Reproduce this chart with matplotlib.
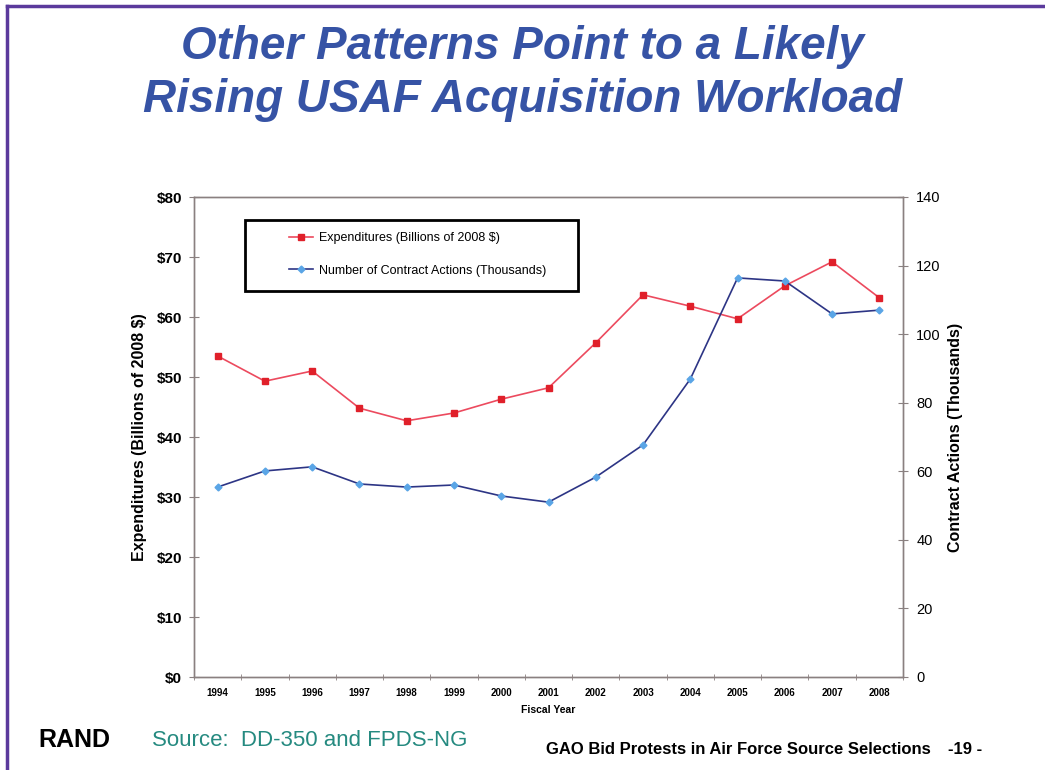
import matplotlib
matplotlib.use("Agg")
import matplotlib.pyplot as plt
from matplotlib.lines import Line2D
from matplotlib.patches import Rectangle
import numpy as np

years = ["1994", "1995", "1996", "1997", "1998", "1999", "2000", "2001",
         "2002", "2003", "2004", "2005", "2006", "2007", "2008"]
expenditures = [53.5, 49.3, 51.0, 44.8, 42.7, 44.0, 46.3, 48.2,
                55.7, 63.7, 61.8, 59.7, 65.2, 69.2, 63.2]
contract_actions = [55.4, 60.1, 61.3, 56.3, 55.4, 56.0, 52.8, 51.0,
                    58.3, 67.7, 86.9, 116.4, 115.5, 105.9, 107.0]
left_ticks = [0, 10, 20, 30, 40, 50, 60, 70, 80]
left_labels = ["$" + str(v) for v in left_ticks]
right_ticks = [0, 20, 40, 60, 80, 100, 120, 140]

plt.rcParams['font.family'] = ['Liberation Sans', 'DejaVu Sans']

fig = plt.figure(figsize=(10.45, 7.7), dpi=100)
fig.patch.set_facecolor("white")

# slide border (top and left)
purple = "#5b3a9c"
fig.add_artist(Line2D([7/1045, 1.0], [1 - 6/770, 1 - 6/770], color=purple, lw=2.5, transform=fig.transFigure))
fig.add_artist(Line2D([7/1045, 7/1045], [0, 1 - 6/770], color=purple, lw=2.5, transform=fig.transFigure))

title_color = "#3653a5"
fig.text(0.5, 1 - 47/770, "Other Patterns Point to a Likely", ha="center", va="center",
         fontsize=33, fontweight="bold", fontstyle="italic", color=title_color)
fig.text(0.5, 1 - 100/770, "Rising USAF Acquisition Workload", ha="center", va="center",
         fontsize=33, fontweight="bold", fontstyle="italic", color=title_color)

ax = fig.add_axes([194/1045, 1 - 677/770, 709/1045, 480/770])
ax2 = ax.twinx()

x = np.arange(len(years))
spine_col = "#8a8080"

ax.plot(x, expenditures, color="#ec4a5e", lw=1.2, marker="s", markersize=5,
        markerfacecolor="#e0202a", markeredgecolor="#e0202a", label="Expenditures (Billions of 2008 $)", zorder=3)
ax2.plot(x, contract_actions, color="#2d3585", lw=1.2, marker="D", markersize=3.5,
         markerfacecolor="#5aa5e6", markeredgecolor="#5aa5e6", label="Number of Contract Actions (Thousands)", zorder=3)

ax.set_xlim(-0.5, len(years) - 0.5)
ax.set_ylim(0, 80)
ax2.set_ylim(0, 140)

ax.set_yticks(left_ticks)
ax.set_yticklabels(left_labels, fontsize=11, fontweight="bold")
ax2.set_yticks(right_ticks)
ax2.set_yticklabels([str(v) for v in right_ticks], fontsize=10.5)

# x labels at centers, ticks at category boundaries
ax.set_xticks(x)
ax.set_xticklabels(years, fontsize=7, fontweight="bold")
ax.tick_params(axis="x", which="major", length=0, pad=8)
ax.set_xticks(np.arange(-0.5, len(years), 1.0), minor=True)
ax.tick_params(axis="x", which="minor", length=5, direction="inout", color=spine_col)

ax.tick_params(axis="y", length=7, direction="inout", color=spine_col, pad=5)
ax2.tick_params(axis="y", length=7, direction="inout", color=spine_col, pad=6)

for a in (ax, ax2):
    for s in a.spines.values():
        s.set_color(spine_col)
        s.set_linewidth(1.0)

ax.set_ylabel("Expenditures (Billions of 2008 $)", fontsize=11.5, fontweight="bold", labelpad=7)
ax2.set_ylabel("Contract Actions (Thousands)", fontsize=11.5, fontweight="bold", labelpad=5)
ax.set_xlabel("Fiscal Year", fontsize=7.5, fontweight="bold", labelpad=5)

# legend frame and legend
ax2.add_patch(Rectangle(((245 - 194) / 709, (677 - 291) / 480), (578 - 245) / 709, 71 / 480,
                        transform=ax2.transAxes, facecolor="white", edgecolor="black",
                        linewidth=2, zorder=5, clip_on=False))
h1, l1 = ax.get_legend_handles_labels()
h2, l2 = ax2.get_legend_handles_labels()
leg = ax2.legend(h1 + h2, l1 + l2, loc="upper left",
                 bbox_to_anchor=((289 - 194) / 709, (677 - 232) / 480),
                 fontsize=9, frameon=False, handlelength=1.9, borderpad=0,
                 labelspacing=1.65, handletextpad=0.5, borderaxespad=0)
leg.set_zorder(6)

# footer
fig.text(38/1045, 1 - 740/770, "RAND", ha="left", va="center", fontsize=18, fontweight="bold",
         color="black", family=["Liberation Sans Narrow", "Liberation Sans"])
fig.text(152/1045, 1 - 740/770, "Source:  DD-350 and FPDS-NG", ha="left", va="center",
         fontsize=16, color="#258a80")
fig.text(546/1045, 1 - 750/770, "GAO Bid Protests in Air Force Source Selections", ha="left", va="center",
         fontsize=12, fontweight="bold", color="black")
fig.text(948/1045, 1 - 750/770, "-19 -", ha="left", va="center",
         fontsize=12, fontweight="bold", color="black")

fig.savefig("out.png", dpi=100)
